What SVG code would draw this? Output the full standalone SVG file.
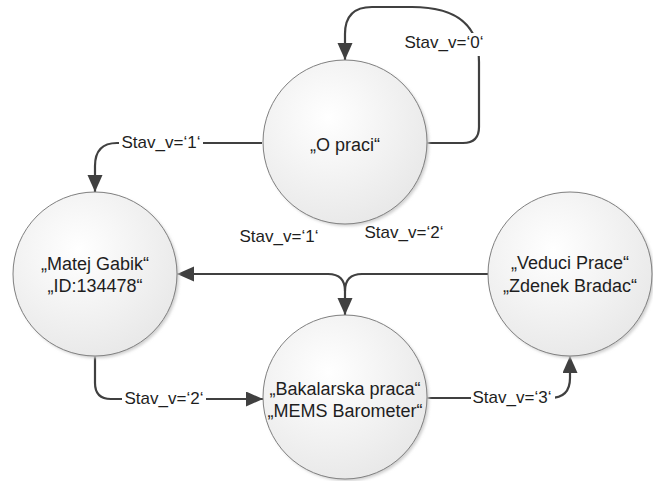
<svg xmlns="http://www.w3.org/2000/svg" width="653" height="481" viewBox="0 0 653 481">
<style>
.node{fill:url(#g);stroke:#808080;stroke-width:1}
.shadow{fill:#cfcfcf;filter:url(#blur)}
.t{font-family:"Liberation Sans",Arial,sans-serif;font-size:17px;fill:#1e1e1e;text-anchor:middle}
.n{font-size:18px}
.c{fill:none;stroke:#404040;stroke-width:2.2}
.a{marker-end:url(#arr)}
.bg{fill:#ffffff}
</style>
<defs>
<radialGradient id="g" cx="0.4" cy="0.35" r="0.75">
<stop offset="0" stop-color="#ffffff"/>
<stop offset="1" stop-color="#e6e6e6"/>
</radialGradient>
<filter id="blur" x="-10%" y="-10%" width="120%" height="120%"><feGaussianBlur stdDeviation="1.5"/></filter>
<marker id="arr" markerUnits="userSpaceOnUse" markerWidth="18" markerHeight="16" refX="17" refY="7.5" orient="auto">
<path d="M0,0 L17,7.5 L0,15 Z" fill="#404040"/>
</marker>
</defs>
<g id="connectors">
<path class="c a" d="M427,143 H463 Q479,143 479,127 V62 C479,30 462,7 412,7 H372 Q345,7 345,34 V60"/>
<path class="c a" d="M262,143 H117 Q95,143 95,166 V192"/>
<path class="c a" d="M488,274 H362 Q345,274 345,291 V315"/>
<path class="c a" d="M345,291 Q345,274 328,274 H177"/>
<path class="c a" d="M95,356 V383 Q95,399 111,399 H263"/>
<path class="c a" d="M427,398 H550 Q570,398 570,378 V356"/>
</g>
<g id="node-o-praci">
<circle class="shadow" cx="347" cy="144" r="82"/>
<circle class="node" cx="345" cy="142" r="82"/>
<text class="t n" x="345" y="151">„O praci“</text>
</g>
<g id="node-matej">
<circle class="shadow" cx="97" cy="276" r="82"/>
<circle class="node" cx="95" cy="274" r="82"/>
<text class="t n" x="95" y="270">„Matej Gabik“</text>
<text class="t n" x="95" y="292">„ID:134478“</text>
</g>
<g id="node-veduci">
<circle class="shadow" cx="572" cy="276" r="82"/>
<circle class="node" cx="570" cy="274" r="82"/>
<text class="t n" x="570" y="269">„Veduci Prace“</text>
<text class="t n" x="570" y="292">„Zdenek Bradac“</text>
</g>
<g id="node-bakalarska">
<circle class="shadow" cx="347" cy="399" r="82"/>
<circle class="node" cx="345" cy="397" r="82"/>
<text class="t n" x="345" y="395">„Bakalarska praca“</text>
<text class="t n" x="345" y="417">„MEMS Barometer“</text>
</g>
<g id="labels">
<rect class="bg" x="402" y="33" width="84" height="23"/>
<text class="t" x="444" y="48">Stav_v=‘0‘</text>
<rect class="bg" x="119" y="134" width="84" height="18"/>
<text class="t" x="161" y="148">Stav_v=‘1‘</text>
<text class="t" x="279" y="242">Stav_v=‘1‘</text>
<text class="t" x="404" y="238">Stav_v=‘2‘</text>
<rect class="bg" x="122" y="390" width="84" height="18"/>
<text class="t" x="164" y="404">Stav_v=‘2‘</text>
<rect class="bg" x="471" y="389" width="84" height="18"/>
<text class="t" x="512" y="403">Stav_v=‘3‘</text>
</g>
</svg>
